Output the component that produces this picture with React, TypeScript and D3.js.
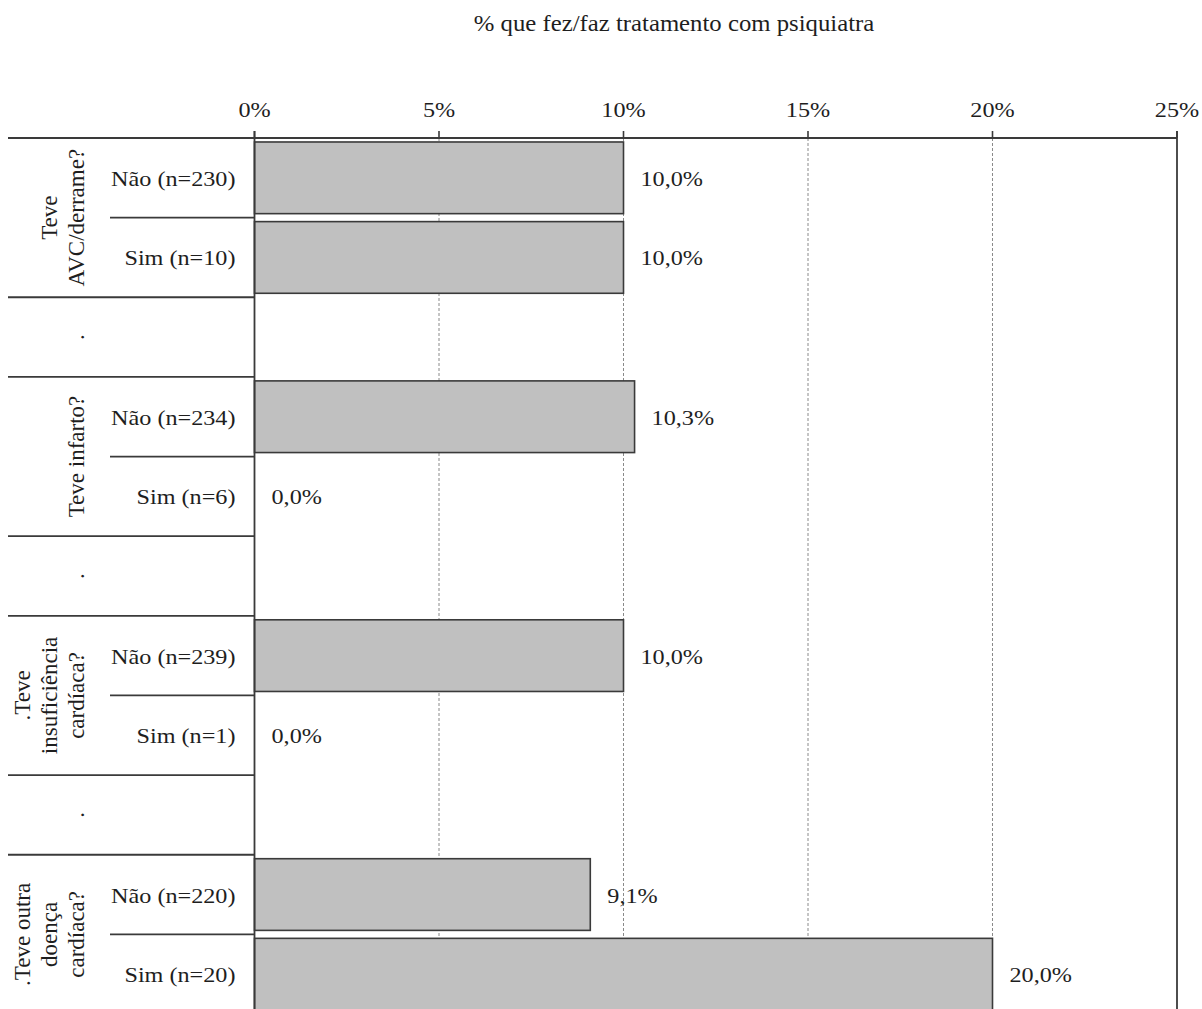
import React from "react";
import * as d3 from "d3";

// Survey: share of respondents who had/have psychiatric treatment, by cardiac condition
const groupLabels: string[][] = [
  ["Teve", "AVC/derrame?"],
  ["Teve infarto?"],
  [".Teve", "insuficiência", "cardíaca?"],
  [".Teve outra", "doença", "cardíaca?"],
];
const answerLabels = ["Não", "Sim"];
const nNao = [230, 234, 239, 220];
const nSim = [10, 6, 1, 20];
const pctNao = [10.0, 10.3, 10.0, 9.1];
const pctSim = [10.0, 0.0, 0.0, 20.0];
const xTicks = [0, 5, 10, 15, 20, 25];
const title = "% que fez/faz tratamento com psiquiatra";

type Row =
  | { kind: "bar"; key: string; group: number; answer: number; label: string; value: number }
  | { kind: "spacer"; key: string };

const rows: Row[] = [];
groupLabels.forEach((_, g) => {
  const ns = [nNao[g], nSim[g]];
  const vs = [pctNao[g], pctSim[g]];
  answerLabels.forEach((a, i) => {
    rows.push({
      kind: "bar",
      key: `g${g}-${i}`,
      group: g,
      answer: i,
      label: `${a} (n=${ns[i]})`,
      value: vs[i],
    });
  });
  if (g < groupLabels.length - 1) rows.push({ kind: "spacer", key: `s${g}` });
});

const W = 1202;
const H = 1009;
const left = 254.5;
const right = 1177;
const top = 138;
const bottom = 1014;
const frameLeft = 8;
const innerSepLeft = 110;
const ink = "#1e1e1e";
const lineCol = "#3a3a3a";
const font = "'Liberation Serif', 'Times New Roman', serif";
const sx = 1.1;

const fmt = (v: number) => v.toFixed(1).replace(".", ",") + "%";

export default function App() {
  const x = d3.scaleLinear().domain([0, 25]).range([left, right]);
  const y = d3
    .scaleBand<string>()
    .domain(rows.map((r) => r.key))
    .range([top, bottom])
    .paddingInner(0.1)
    .paddingOuter(0.05);
  const step = y.step();
  const rowTop = (k: string) => (y(k) as number) - (step - y.bandwidth()) / 2;
  const rowMid = (k: string) => (y(k) as number) + y.bandwidth() / 2;

  // group extents for the left-hand table lines and rotated labels
  const groups = groupLabels.map((lines, g) => {
    const keys = rows.filter((r) => r.kind === "bar" && r.group === g).map((r) => r.key);
    const y0 = rowTop(keys[0]);
    const y1 = rowTop(keys[keys.length - 1]) + step;
    return { lines, y0, y1, sep: rowTop(keys[1]) };
  });

  const HText = ({
    tx,
    ty,
    anchor,
    size,
    children,
  }: {
    tx: number;
    ty: number;
    anchor: "start" | "middle" | "end";
    size: number;
    children: React.ReactNode;
  }) => (
    <g transform={`translate(${tx},${ty}) scale(${sx},1)`}>
      <text x={0} y={0} textAnchor={anchor} fontSize={size} fontFamily={font} fill={ink}>
        {children}
      </text>
    </g>
  );

  return (
    <svg
      width={W}
      height={H}
      viewBox={`0 0 ${W} ${H}`}
      style={{ position: "absolute", left: 0, top: 0, background: "#fff" }}
    >
      <rect x={0} y={0} width={W} height={H} fill="#fff" />

      <HText tx={674} ty={31} anchor="middle" size={22.5}>
        {title}
      </HText>

      {/* dashed gridlines */}
      {xTicks
        .filter((t) => t > 0 && t < 25)
        .map((t) => (
          <line
            key={`grid${t}`}
            x1={x(t)}
            x2={x(t)}
            y1={top}
            y2={H}
            stroke="#8a8a8a"
            strokeWidth={1}
            strokeDasharray="3,2"
          />
        ))}

      {/* bars */}
      {rows.map((r) =>
        r.kind === "bar" && r.value > 0 ? (
          <rect
            key={`bar-${r.key}`}
            x={x(0)}
            y={y(r.key)}
            width={x(r.value) - x(0)}
            height={y.bandwidth()}
            fill="#c0c0c0"
            stroke={lineCol}
            strokeWidth={1.6}
          />
        ) : null
      )}

      {/* value labels */}
      {rows.map((r) =>
        r.kind === "bar" ? (
          <HText key={`val-${r.key}`} tx={x(r.value) + 17} ty={rowMid(r.key) + 8} anchor="start" size={22}>
            {fmt(r.value)}
          </HText>
        ) : null
      )}

      {/* top axis */}
      <line x1={frameLeft} x2={right} y1={top} y2={top} stroke={lineCol} strokeWidth={1.8} />
      {xTicks.map((t) => (
        <g key={`tick${t}`}>
          <line x1={x(t)} x2={x(t)} y1={top - 7} y2={top} stroke={lineCol} strokeWidth={1.6} />
          <HText tx={x(t)} ty={117} anchor="middle" size={22}>
            {`${t}%`}
          </HText>
        </g>
      ))}
      <line x1={x(0)} x2={x(0)} y1={top - 7} y2={H} stroke={lineCol} strokeWidth={1.8} />
      <line x1={x(25)} x2={x(25)} y1={top - 7} y2={H} stroke={lineCol} strokeWidth={1.8} />

      {/* left-hand table lines */}
      {groups.map((g, i) => (
        <g key={`gl${i}`}>
          <line x1={frameLeft} x2={x(0)} y1={g.y0} y2={g.y0} stroke={lineCol} strokeWidth={1.8} />
          <line x1={innerSepLeft} x2={x(0)} y1={g.sep} y2={g.sep} stroke={lineCol} strokeWidth={1.8} />
          {i < groups.length - 1 && (
            <line x1={frameLeft} x2={x(0)} y1={g.y1} y2={g.y1} stroke={lineCol} strokeWidth={1.8} />
          )}
        </g>
      ))}

      {/* category labels */}
      {rows.map((r) =>
        r.kind === "bar" ? (
          <HText key={`cat-${r.key}`} tx={x(0) - 19} ty={rowMid(r.key) + 8} anchor="end" size={22}>
            {r.label}
          </HText>
        ) : (
          <text
            key={`dot-${r.key}`}
            transform={`translate(${84},${rowMid(r.key)}) rotate(-90)`}
            textAnchor="middle"
            fontSize={23}
            fontFamily={font}
            fill={ink}
          >
            .
          </text>
        )
      )}

      {/* rotated group labels */}
      {groups.map((g, i) => {
        const cy = (g.y0 + g.y1) / 2;
        const n = g.lines.length;
        return (
          <g key={`glab${i}`}>
            {g.lines.map((line, j) => (
              <text
                key={j}
                transform={`translate(${84 - (n - 1 - j) * 27},${cy}) rotate(-90)`}
                textAnchor="middle"
                fontSize={23}
                fontFamily={font}
                fill={ink}
              >
                {line}
              </text>
            ))}
          </g>
        );
      })}
    </svg>
  );
}
